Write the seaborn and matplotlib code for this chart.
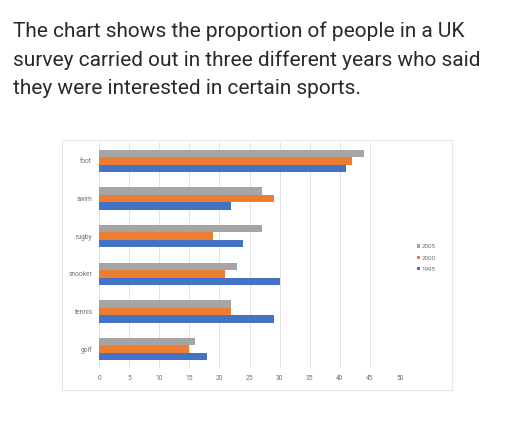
import pandas as pd
import seaborn as sns
import matplotlib.pyplot as plt
from matplotlib.patches import Rectangle

# Data
sports = ["foot", "swim", "rugby", "snooker", "tennis", "golf"]
years = ["2005", "2000", "1995"]
y2005 = [44, 27, 27, 23, 22, 16]
y2000 = [42, 29, 19, 21, 22, 15]
y1995 = [41, 22, 24, 30, 29, 18]
colors = ["#A5A5A5", "#ED7D31", "#4472C4"]

df = pd.DataFrame({
    "sport": sports * 3,
    "year": ["2005"] * 6 + ["2000"] * 6 + ["1995"] * 6,
    "value": y2005 + y2000 + y1995,
})

sns.set_style("white")
plt.rcParams["font.family"] = ["Roboto", "DejaVu Sans"]

fig = plt.figure(figsize=(5.12, 4.21), dpi=100)

# heading text
heading = ["The chart shows the proportion of people in a UK",
           "survey carried out in three different years who said",
           "they were interested in certain sports."]
for i, line in enumerate(heading):
    fig.text(13 / 512, 1 - (37 + 28.5 * i) / 421, line, fontsize=15,
             color="#2a2a2a", va="baseline", ha="left")

# light frame around the chart
fig.patches.append(Rectangle((62 / 512, 1 - 390 / 421), 390 / 512, 250 / 421,
                             transform=fig.transFigure, fill=False,
                             edgecolor="#E6E6E6", linewidth=0.8))

ax = fig.add_axes([99 / 512, 1 - 368 / 421, 301 / 512, 226 / 421])
sns.barplot(data=df, x="value", y="sport", hue="year", order=sports,
            hue_order=years, palette=colors, width=0.6, saturation=1,
            orient="h", ax=ax, legend=True, linewidth=0)

ax.set_xlim(0, 50)
ax.set_xticks(range(0, 51, 5))
ax.set_xlabel("")
ax.set_ylabel("")
ax.grid(axis="x", color="#E3E3E3", linewidth=0.7)
ax.set_axisbelow(True)
for s in ax.spines.values():
    s.set_visible(False)
ax.tick_params(axis="both", length=0, labelsize=4.8, labelcolor="#707070", pad=5)

handles, labels = ax.get_legend_handles_labels()
ax.get_legend().remove()
fig.legend(handles, labels, loc="center left",
           bbox_to_anchor=(411 / 512, 1 - 258 / 421), frameon=False,
           fontsize=4.5, handlelength=0.5, handleheight=0.5, handletextpad=0.3,
           labelspacing=1.0, labelcolor="#707070")

fig.savefig("out.png", dpi=100)
